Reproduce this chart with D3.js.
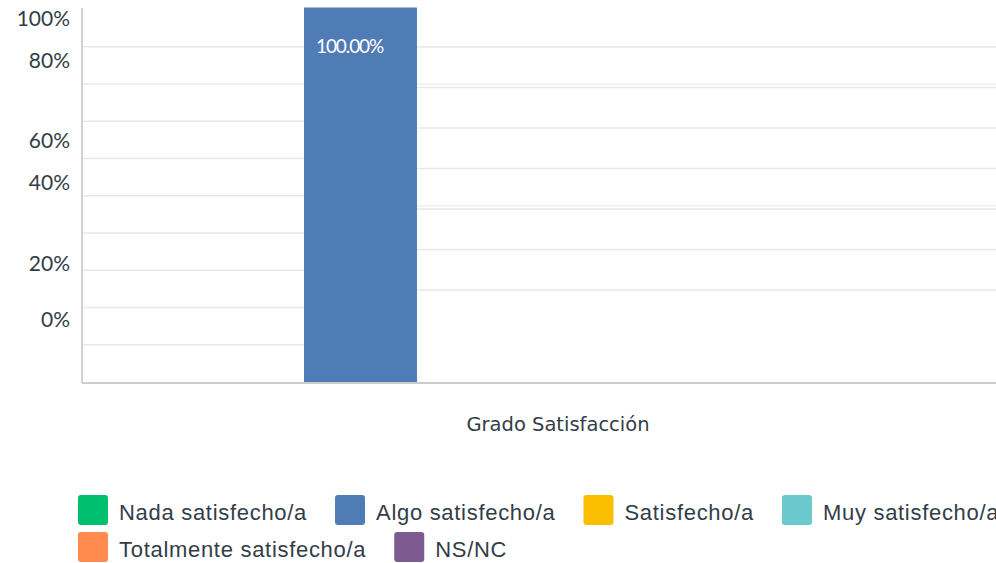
<!DOCTYPE html>
<html>
<head>
<meta charset="utf-8">
<script src="https://cdn.jsdelivr.net/npm/d3@7"></script>
<style>
  html, body { margin: 0; padding: 0; background: #fff; overflow: hidden; }
  svg { display: block; }
</style>
</head>
<body>
<svg id="chart" width="996" height="563"></svg>
<script>
// ---- data ----
const categories = ["Grado Satisfacción"];
const seriesNames = ["Nada satisfecho/a", "Algo satisfecho/a", "Satisfecho/a", "Muy satisfecho/a", "Totalmente satisfecho/a", "NS/NC"];
const seriesValues = [0, 100, 0, 0, 0, 0];
const seriesColors = ["#00bf6f", "#507cb6", "#f9be00", "#6bc8cd", "#ff8b4f", "#7d5a8f"];
const yTickLabels = ["100%", "80%", "60%", "40%", "20%", "0%"];
const yTickValues = [100, 80, 60, 40, 20, 0];

// ---- layout ----
const svg = d3.select("#chart");
const plot = { left: 82, right: 1034, top: 9.5, bottom: 382 };
const textColor = "#333d48";

const y = d3.scaleLinear().domain([0, 100]).range([plot.bottom, plot.top]);
const x0 = d3.scaleBand().domain(categories).range([plot.left, plot.right]).padding(0);
const x1 = d3.scaleBand().domain(seriesNames)
  .range([0, x0.bandwidth()]).paddingInner(0.142).paddingOuter(0.686);

// gridlines (left part, up to end of the plotted bar)
const barIdx = seriesValues.findIndex(v => v > 0);
const splitX = x0(categories[0]) + x1(seriesNames[barIdx]) + x1.bandwidth();
const gridVals = d3.range(10, 100, 10);
svg.append("g").selectAll("line").data(gridVals).join("line")
  .attr("x1", plot.left).attr("x2", splitX)
  .attr("y1", d => y(d)).attr("y2", d => y(d))
  .attr("stroke", "#e8e8e8").attr("stroke-width", 1.5);

// right-side grid (offset rendering in original)
const yGhost = d3.scaleLinear().domain([0, 6]).range([290, 47]);
const ghostVals = d3.range(0, 7);
const gR = svg.append("g");
gR.selectAll("line.a").data(ghostVals).join("line").attr("class", "a")
  .attr("x1", splitX).attr("x2", 996)
  .attr("y1", d => yGhost(d)).attr("y2", d => yGhost(d))
  .attr("stroke", "#e8e8e8").attr("stroke-width", 1.5);
gR.selectAll("line.b").data([2, 5]).join("line").attr("class", "b")
  .attr("x1", splitX).attr("x2", 996)
  .attr("y1", d => yGhost(d) - 3.3).attr("y2", d => yGhost(d) - 3.3)
  .attr("stroke", "#eeeeee").attr("stroke-width", 1.5);

// bars
const gBars = svg.append("g");
categories.forEach(cat => {
  gBars.selectAll("rect").data(seriesNames.map((s, i) => ({ s, v: seriesValues[i], c: seriesColors[i] })))
    .join("rect")
    .attr("x", d => x0(cat) + x1(d.s))
    .attr("width", x1.bandwidth())
    .attr("y", d => y(d.v) - 2)
    .attr("height", d => d.v > 0 ? y(0) - y(d.v) + 2 : 0)
    .attr("fill", d => d.c);
  gBars.selectAll("text").data(seriesNames.map((s, i) => ({ s, v: seriesValues[i] })).filter(d => d.v > 0))
    .join("text")
    .attr("x", d => x0(cat) + x1(d.s) + 12)
    .attr("y", d => y(d.v) + 43)
    .attr("fill", "#ffffff")
    .attr("font-family", "Lato, sans-serif")
    .attr("font-size", 19)
    .attr("letter-spacing", -1.1)
    .text(d => d.v.toFixed(2) + "%");
});

// axes lines
svg.append("line").attr("x1", plot.left).attr("x2", plot.left)
  .attr("y1", 8).attr("y2", plot.bottom + 1)
  .attr("stroke", "#d2d2d2").attr("stroke-width", 2);
svg.append("line").attr("x1", plot.left).attr("x2", 996)
  .attr("y1", plot.bottom + 1).attr("y2", plot.bottom + 1)
  .attr("stroke", "#cccccc").attr("stroke-width", 2);

// y tick labels (placed as rendered in the original, offset from gridlines)
const yLabelPos = d3.scaleLinear().domain([0, 20, 40, 60, 80, 100]).range([327, 271, 190, 148, 68, 26]);
svg.append("g").selectAll("text").data(yTickValues).join("text")
  .attr("x", 70)
  .attr("y", d => yLabelPos(d))
  .attr("text-anchor", "end")
  .attr("fill", textColor)
  .attr("font-family", "Lato, sans-serif")
  .attr("font-size", 21)
  .text((d, i) => yTickLabels[i]);

// category label
svg.append("g").selectAll("text").data(categories).join("text")
  .attr("x", d => x0(d) + x0.bandwidth() / 2)
  .attr("y", 431)
  .attr("text-anchor", "middle")
  .attr("fill", textColor)
  .attr("font-family", "'DejaVu Sans', sans-serif")
  .attr("font-size", 19.5)
  .text(d => d);

// legend
const legend = svg.append("g");
let lx = 78, ly = 495;
const rowH = 37, sw = 30, maxX = 1040;
seriesNames.forEach((name, i) => {
  const g = legend.append("g");
  const t = g.append("text")
    .attr("font-family", "'Liberation Sans', Arial, sans-serif")
    .attr("font-size", 22)
    .attr("letter-spacing", 0.7)
    .attr("fill", textColor)
    .text(name);
  const tw = t.node().getComputedTextLength();
  const w = sw + 11 + tw;
  if (lx + w > maxX) { lx = 78; ly += rowH; }
  g.insert("rect", "text")
    .attr("x", lx).attr("y", ly).attr("width", sw).attr("height", sw)
    .attr("rx", 3).attr("fill", seriesColors[i]);
  t.attr("x", lx + sw + 11).attr("y", ly + 25);
  lx += w + 28;
});
</script>
</body>
</html>
